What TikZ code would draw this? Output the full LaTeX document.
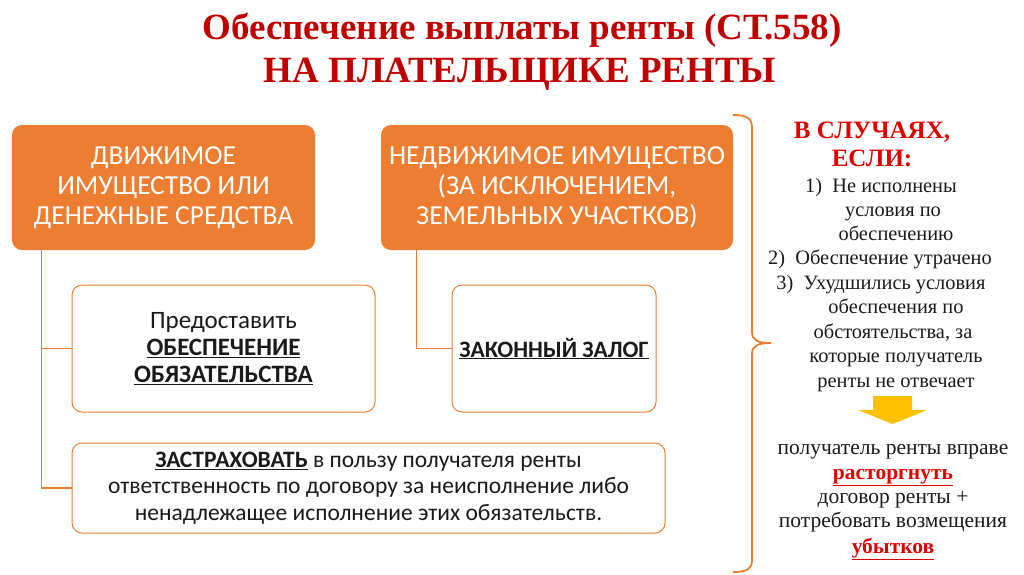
\documentclass[tikz,border=0pt]{standalone}
\usepackage{fontspec}
\setmainfont{Liberation Serif}
\newfontfamily\carlitofont{Carlito}
\definecolor{orng}{HTML}{ED7D31}
\definecolor{dred}{HTML}{C00000}
\definecolor{bred}{HTML}{E00000}
\definecolor{ylw}{HTML}{FFC000}
\definecolor{txt}{HTML}{1A1A1A}
\tikzset{
  obox/.style={fill=orng, draw=none, rounded corners=10pt, text=white, align=center,
     font=\carlitofont\fontsize{27.5}{30}\selectfont, inner sep=0pt},
  wbox/.style={fill=white, draw=orng, line width=1pt, rounded corners=10pt, text=txt, align=center,
     inner sep=0pt},
  conn/.style={draw=orng!85!brown, line width=1.2pt},
  rtext/.style={text=txt, font=\fontsize{20.4}{24.5}\selectfont, inner sep=0pt, anchor=base},
  btext/.style={text=txt, font=\fontsize{21.5}{24.5}\selectfont, inner sep=0pt, anchor=base},
  ttext/.style={text=dred, font=\bfseries\fontsize{37}{43}\selectfont, inner sep=0pt, anchor=base},
}
\begin{document}
\begin{tikzpicture}[x=1pt,y=-1pt]
\useasboundingbox (0,0) rectangle (1024,574);
% title
\node[ttext] (title1) at (522,39) {Обеспечение выплаты ренты (СТ.558)};
\node[ttext] (title2) at (520,82) {НА ПЛАТЕЛЬЩИКЕ РЕНТЫ};
% orange boxes
\node[obox, minimum width=303pt, minimum height=125pt] (o1) at (163.5,187.5)
  {ДВИЖИМОЕ\\ИМУЩЕСТВО ИЛИ\\ДЕНЕЖНЫЕ СРЕДСТВА};
\node[obox, minimum width=352pt, minimum height=125pt] (o2) at (557,187.5)
  {НЕДВИЖИМОЕ ИМУЩЕСТВО\\(ЗА ИСКЛЮЧЕНИЕМ,\\ЗЕМЕЛЬНЫХ УЧАСТКОВ)};
% white boxes
\node[wbox, minimum width=303pt, minimum height=127pt, font=\carlitofont\fontsize{25}{27}\selectfont] (w1) at (223.5,348.5)
  {Предоставить\\\textbf{\underline{ОБЕСПЕЧЕНИЕ}}\\\textbf{\underline{ОБЯЗАТЕЛЬСТВА}}};
\node[wbox, minimum width=204pt, minimum height=127pt, font=\carlitofont\fontsize{23.5}{27}\selectfont] (w2) at (554,348.5)
  {\textbf{\underline{ЗАКОННЫЙ ЗАЛОГ}}};
\node[wbox, minimum width=593pt, minimum height=90pt, font=\carlitofont\fontsize{23.5}{26.5}\selectfont] (w3) at (368.5,488)
  {\textbf{\underline{ЗАСТРАХОВАТЬ}} в пользу получателя ренты\\ответственность по договору за неисполнение либо\\ненадлежащее исполнение этих обязательств.};
% connectors
\draw[conn] (o1.south west) ++(30,0) |- (w1.west);
\draw[conn] (o1.south west) ++(30,0) |- (w3.west);
\draw[conn] (o2.south west) ++(36,0) |- (w2.west);
% brace
\draw[orng, line width=1.8pt]
  (733,115) .. controls (747,115) and (752,118) .. (752,128) -- (752,332)
  .. controls (752,340) and (757,343) .. (771,343)
  .. controls (757,343) and (752,346) .. (752,354) -- (752,560)
  .. controls (752,569) and (747,572) .. (733,572);
% right side text
\node[text=bred, font=\bfseries\fontsize{25}{28}\selectfont, align=center] (cases) at (872,144)
  {В СЛУЧАЯХ,\\ЕСЛИ:};
\node[rtext] (l1) at (881,192) {1)\ \ Не исполнены};
\node[rtext] (l2) at (893,216) {условия по};
\node[rtext] (l3) at (896,240) {обеспечению};
\node[rtext] (l4) at (880,264) {2)\ \ Обеспечение утрачено};
\node[rtext] (l5) at (881,289) {3)\ \ Ухудшились условия};
\node[rtext] (l6) at (896,313) {обеспечения по};
\node[rtext] (l7) at (893,338) {обстоятельства, за};
\node[rtext] (l8) at (896,362) {которые получатель};
\node[rtext] (l9) at (896,387) {ренты не отвечает};
% yellow arrow
\fill[ylw] (873,396) -- (912,396) -- (912,410) -- (927,410) -- (892.5,424) -- (858,410) -- (873,410) -- cycle;
% result text
\node[btext] (r1) at (893,454) {получатель ренты вправе};
\node[btext, font=\bfseries\fontsize{21.5}{24.5}\selectfont, text=bred] (r2) at (893,479) {\underline{расторгнуть}};
\node[btext] (r3) at (893,503) {договор ренты +};
\node[btext] (r4) at (893,527) {потребовать возмещения};
\node[btext, font=\bfseries\fontsize{21.5}{24.5}\selectfont, text=bred] (r5) at (893,553) {\underline{убытков}};
\end{tikzpicture}
\end{document}
